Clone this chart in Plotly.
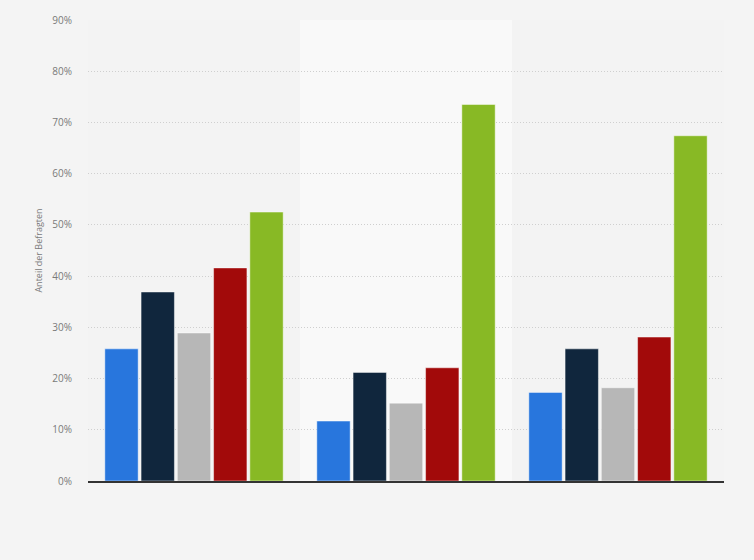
import plotly.graph_objects as go

# Gruppen (keine Beschriftung im Original sichtbar)
gruppen = ['Gruppe 1', 'Gruppe 2', 'Gruppe 3']

serie_1 = [25.8, 11.7, 17.3]
serie_2 = [36.9, 21.2, 25.8]
serie_3 = [28.9, 15.2, 18.2]
serie_4 = [41.6, 22.1, 28.1]
serie_5 = [52.5, 73.5, 67.4]

serien = [
    ('Serie 1', serie_1, '#2876dd'),
    ('Serie 2', serie_2, '#10263d'),
    ('Serie 3', serie_3, '#b7b7b7'),
    ('Serie 4', serie_4, '#a20a0a'),
    ('Serie 5', serie_5, '#88b925'),
]

fig = go.Figure()
for name, werte, farbe in serien:
    fig.add_trace(go.Bar(
        name=name, x=gruppen, y=werte,
        marker=dict(color=farbe, line=dict(color='rgba(255,255,255,0.45)', width=1)),
        hovertemplate='%{y:.1f}%<extra>' + name + '</extra>',
    ))

# hellerer Hintergrund hinter der mittleren Gruppe
fig.add_shape(type='rect', xref='x', yref='y', x0=0.5, x1=1.5, y0=0, y1=90,
              fillcolor='#f9f9f9', line=dict(width=0), layer='below')

fig.update_layout(
    width=754, height=560,
    barmode='group', bargap=0.145, bargroupgap=0.08,
    paper_bgcolor='#f4f4f4', plot_bgcolor='#f3f3f3',
    margin=dict(l=88, r=30, t=20, b=79),
    showlegend=False,
    font=dict(family='Open Sans, Arial, sans-serif', size=9, color='#7a7a7a'),
)
fig.update_xaxes(showticklabels=False, showgrid=False, ticks='',
                 showline=True, linecolor='#333333', linewidth=1.5)
fig.update_yaxes(range=[0, 90], dtick=10, ticksuffix='%',
                 showgrid=True, gridcolor='#cfcfcf', griddash='1px,2px', gridwidth=1,
                 zeroline=False, showline=False, ticklabelstandoff=15,
                 title=dict(text='Anteil der Befragten', font=dict(size=9, color='#7a7a7a'), standoff=8),
                 tickfont=dict(size=10, color='#7a7a7a'))

# Seitenrand des Browsers entfernen, damit die Grafik bündig sitzt
fig.write_html('out.html', config={'displayModeBar': False},
               post_script="document.body.style.margin='0';")
